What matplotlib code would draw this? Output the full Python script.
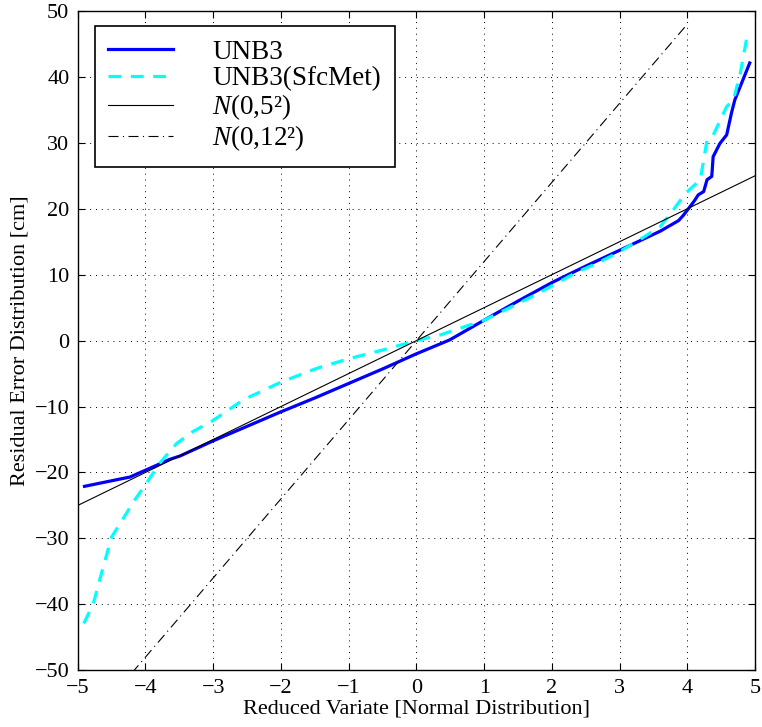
import matplotlib.pyplot as plt
import numpy as np

plt.rcParams['font.family'] = ['Liberation Serif', 'DejaVu Serif']
plt.rcParams['mathtext.fontset'] = 'custom'
plt.rcParams['mathtext.rm'] = 'Liberation Serif'
plt.rcParams['mathtext.it'] = 'Liberation Serif:italic'

# UNB3 residual quantiles
unb3_x = [-4.90, -4.33, -4.23, -4.01, -3.79, -3.64, -3.49, -3.00, -2.50, -2.00,
          -1.50, -1.00, -0.50, 0.00, 0.49, 1.00, 1.50, 2.00, 2.50, 3.00, 3.60,
          3.87, 3.94, 4.06, 4.11, 4.16, 4.24, 4.29, 4.36, 4.38, 4.48, 4.58,
          4.65, 4.70, 4.92]
unb3_y = [-22.1, -20.9, -20.7, -19.7, -18.7, -18.0, -17.5, -15.2, -13.0, -10.8,
          -8.7, -6.5, -4.3, -2.0, 0.1, 3.1, 6.0, 8.8, 11.3, 13.7, 16.6,
          18.2, 19.0, 20.6, 21.3, 22.1, 22.6, 24.4, 24.9, 27.9, 29.9, 31.2,
          34.5, 36.5, 42.1]

# UNB3(SfcMet)
sfc_x = [-4.91, -4.77, -4.65, -4.50, -4.33, -4.16, -3.99, -3.79, -3.54, -3.30,
         -3.00, -2.56, -2.00, -1.47, -0.98, -0.49, 0.00, 0.35, 1.00, 1.18,
         1.77, 2.07, 2.37, 2.66, 2.93, 3.25, 3.60, 3.79, 3.97, 4.19, 4.29,
         4.36, 4.58, 4.68, 4.78, 4.88]
sfc_y = [-42.9, -39.9, -35.3, -29.8, -27.0, -24.2, -21.7, -18.6, -15.6, -13.8,
         -12.1, -9.0, -6.3, -4.2, -2.7, -1.4, 0.0, 0.85, 3.1, 4.0,
         7.0, 8.7, 10.4, 11.7, 13.1, 15.0, 17.3, 19.8, 22.3, 24.4, 30.4,
         30.7, 35.5, 36.5, 40.5, 46.1]

# reference normal distributions
n5_x = [-5, 5]
n5_sigma = 5
n12_x = [-4.2, 4.0]
n12_sigma = 12

fig = plt.figure(figsize=(7.62, 7.27), dpi=100)
ax = fig.add_axes([0.102, 0.078, 0.889, 0.907])

ax.plot(unb3_x, unb3_y, color='#0000ff', linewidth=2.3, label='UNB3')
ax.plot(sfc_x, sfc_y, color='#00ffff', linewidth=2.3, linestyle=(0, (4, 3)),
        label='UNB3(SfcMet)')
ax.plot(n5_x, np.array(n5_x) * n5_sigma, color='black', linewidth=0.8,
        label='$N$(0,5²)')
ax.plot(n12_x, np.array(n12_x) * n12_sigma, color='black', linewidth=0.8,
        linestyle=(0, (9, 4, 1, 4)), label='$N$(0,12²)')

ax.set_xlim(-5, 5)
ax.set_ylim(-50, 50)
ax.set_xticks(np.arange(-5, 6, 1))
ax.set_yticks(np.arange(-50, 51, 10))
ax.grid(True, color='black', linestyle=(0, (1, 5)), linewidth=0.7)
ax.tick_params(direction='in', top=True, right=True, length=5,
               labelsize=16, pad=6)
for s in ax.spines.values():
    s.set_linewidth(1.0)

ax.set_xlabel('Reduced Variate [Normal Distribution]', fontsize=16, labelpad=1)
ax.set_ylabel('Residual Error Distribution [cm]', fontsize=16, labelpad=4)

leg = ax.legend(loc='upper left', bbox_to_anchor=(0.025, 0.977), borderaxespad=0,
                fontsize=19.5, handlelength=2.4, handletextpad=1.45,
                labelspacing=0.05, borderpad=0.5, fancybox=False,
                framealpha=1, edgecolor='black')
leg.get_frame().set_linewidth(1.2)

fig.savefig('out.png', dpi=100)
